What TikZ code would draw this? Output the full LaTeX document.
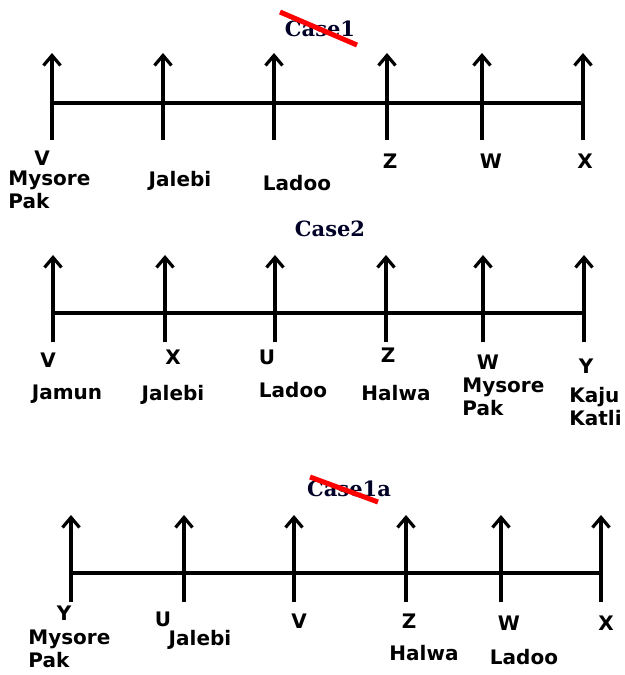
\documentclass[tikz,border=0pt]{standalone}
\usepackage{fontspec}
\setmainfont{DejaVu Sans}
\newfontfamily\casefont{DejaVu Serif}
\usetikzlibrary{arrows.meta}
\tikzset{
  tickarrow/.style={line width=1.7pt,-{Straight Barb[length=5pt,width=8.5pt,line width=1.6pt]}},
  axisline/.style={line width=1.7pt},
  lbl/.style={font=\bfseries\fontsize{10}{11.5}\selectfont,inner sep=0pt,align=left},
  casettl/.style={font=\casefont\bfseries\fontsize{10.5}{12}\selectfont,inner sep=0pt,text=black!85!blue},
  strike/.style={red,line width=2.5pt}
}
\begin{document}
\begin{tikzpicture}[x=0.5pt,y=-0.5pt]
\useasboundingbox (0,0) rectangle (625,675);

%case1
\node[casettl] (c1) at (320,29){Case1};
\path[draw,strike] (280,12) -- (357,45);
\foreach \x [count=\i] in {52,163,274,387,482,583}{
    \coordinate (a\i b) at (\x,140);
    \coordinate (a\i m) at (\x,103);
    \coordinate (a\i t) at (\x,53);
    \draw[tickarrow] (a\i b) -- (a\i t);
}
\draw[axisline] (a1m) -- (a6m);
\node[lbl,anchor=base] (a1l) at (42,165){V};
\node[lbl,anchor=north west] (a1f) at (8,171){Mysore\\Pak};
\node[lbl,anchor=base] (a2f) at (180,186){Jalebi};
\node[lbl,anchor=base] (a3f) at (297,190){Ladoo};
\node[lbl,anchor=base] (a4l) at (390,168){Z};
\node[lbl,anchor=base] (a5l) at (491,168){W};
\node[lbl,anchor=base] (a6l) at (585,168){X};

%case2
\node[casettl] (c2) at (330,229){Case2};
\foreach \x [count=\i] in {53,165,275,386,483,584}{
    \coordinate (b\i b) at (\x,342);
    \coordinate (b\i m) at (\x,313);
    \coordinate (b\i t) at (\x,255);
    \draw[tickarrow] (b\i b) -- (b\i t);
}
\draw[axisline] (b1m) -- (b6m);
\foreach \x/\y/\n [count=\i] in {48/367/V,173/364/X,267/364/U,388/362/Z,488/369/W,586/373/Y}{
    \node[lbl,anchor=base] (b\i l) at (\x,\y){\n};
}
\node[lbl,anchor=base] (b1f) at (67,399){Jamun};
\node[lbl,anchor=base] (b2f) at (173,400){Jalebi};
\node[lbl,anchor=base] (b3f) at (293,397){Ladoo};
\node[lbl,anchor=base] (b4f) at (396,400){Halwa};
\node[lbl,anchor=north west] (b5f) at (462,378){Mysore\\Pak};
\node[lbl,anchor=north east] (b6f) at (622,387){Kaju\\Katli};

%case1a
\node[casettl] (c3) at (349,489){Case1a};
\path[draw,strike] (310,477) -- (378,502);
\foreach \x [count=\i] in {71,184,294,406,501,601}{
    \coordinate (c\i b) at (\x,602);
    \coordinate (c\i m) at (\x,573);
    \coordinate (c\i t) at (\x,515);
    \draw[tickarrow] (c\i b) -- (c\i t);
}
\draw[axisline] (c1m) -- (c6m);
\foreach \x/\y/\n [count=\i] in {64/620/Y,163/626/U,299/628/V,409/628/Z,509/630/W,606/630/X}{
    \node[lbl,anchor=base] (c\i l) at (\x,\y){\n};
}
\node[lbl,anchor=north west] (c1f) at (28,630){Mysore\\Pak};
\node[lbl,anchor=base] (c2f) at (200,645){Jalebi};
\node[lbl,anchor=base] (c4f) at (424,660){Halwa};
\node[lbl,anchor=base] (c5f) at (524,664){Ladoo};

\end{tikzpicture}
\end{document}
